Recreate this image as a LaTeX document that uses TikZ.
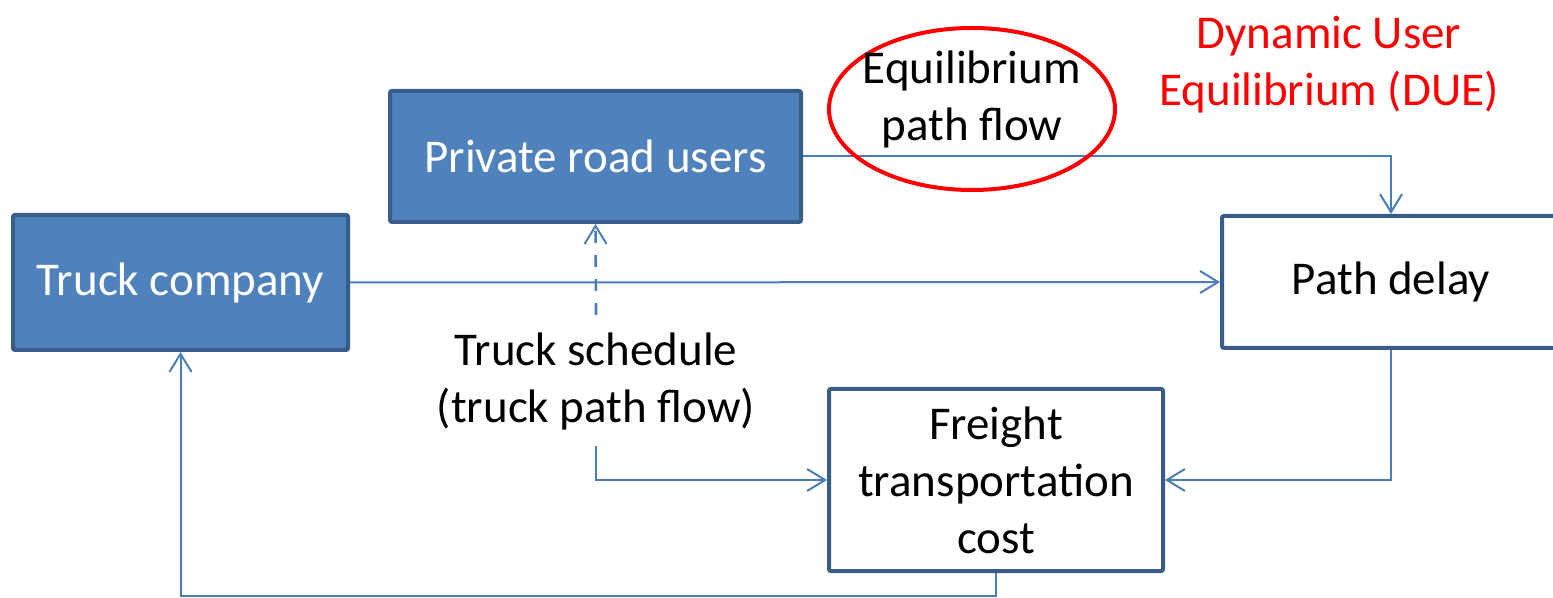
\documentclass[tikz,border=0pt]{standalone}
\usepackage{fontspec}
\setmainfont{Carlito}
\usetikzlibrary{arrows.meta}
\definecolor{boxfill}{HTML}{4F81BD}
\definecolor{boxedge}{HTML}{385D8A}
\definecolor{wire}{HTML}{4A7EBB}
\definecolor{duered}{HTML}{FF0000}
\tikzset{
  x=0.5pt, y=-0.5pt,
  every node/.style={font=\fontsize{23.5}{28.5}\selectfont, align=center, inner sep=0pt},
  filledbox/.style={draw=boxedge, fill=boxfill, line width=2pt, text=white, rounded corners=1pt},
  plainbox/.style={draw=boxedge, fill=white, line width=2pt, text=black, rounded corners=1pt},
  wire/.style={draw=wire, line width=1pt, -{Straight Barb[length=9pt,width=11pt,line width=1pt]}},
}
\begin{document}
\begin{tikzpicture}
\useasboundingbox (0,0) rectangle (1553,598);

% boxes
\node[filledbox, minimum width=167.5pt, minimum height=67.5pt] (truck) at (180.5,282.5) {Truck company};
\node[filledbox, minimum width=205.5pt, minimum height=65.5pt] (private) at (595.5,156.5) {Private road users};
\node[plainbox, minimum width=169pt, minimum height=66pt] (delay) at (1391,282) {Path delay};
\node[plainbox, minimum width=167pt, minimum height=91pt] (freight) at (996,480) {Freight\\transportation\\cost};

% free-standing labels
\node (sched) at (596,381) {Truck schedule\\(truck path flow)};
\coordinate (schedTop) at (596,315);
\coordinate (schedBot) at (596,446);
\node[text=duered] (due) at (1329,65) {Dynamic User\\Equilibrium (DUE)};

% connectors
\draw[wire] (private.east) -| (delay.north);
\draw[wire] (truck.east) -- (delay.west);
\draw[wire] (delay.south) |- (freight.east);
\draw[wire] (schedBot) |- (freight.west);
\draw[wire, dashed, dash pattern=on 6pt off 6pt, line width=1.3pt] (schedTop) -- (private.south);
\coordinate (loop) at (996,596);
\draw[wire] (freight.south) -- (loop) -| (truck.south);

% highlighted equilibrium flow
\coordinate (eqc) at (972,109);
\draw[duered, line width=2pt] (eqc) ellipse [x radius=71.5pt, y radius=40.5pt];
\node (eqflow) at (972,99) {Equilibrium\\path flow};
\end{tikzpicture}
\end{document}
